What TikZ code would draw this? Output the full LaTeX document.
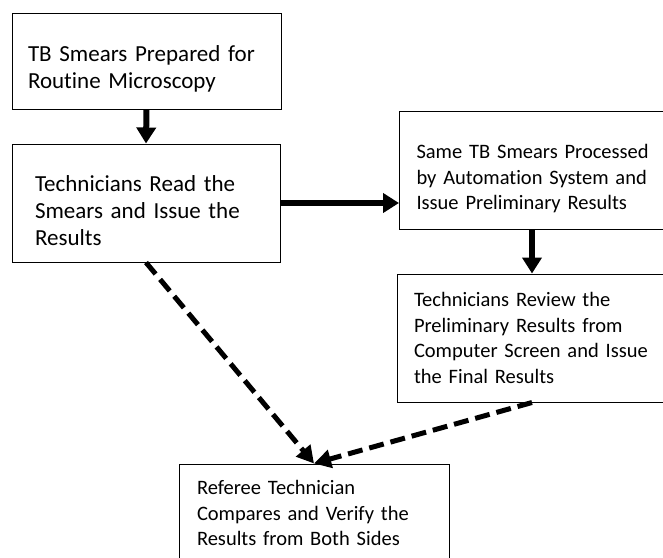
\documentclass[tikz,border=0pt]{standalone}
\usepackage{fontspec}
\setmainfont{Carlito}[Ligatures=NoCommon]
\usetikzlibrary{arrows.meta}

\begin{document}
\begin{tikzpicture}
		[x=1pt,y=-1pt,line join=miter]
		\tikzstyle{box}=[rectangle, draw, line width=1pt, align=left, font=\fontsize{23}{27}\selectfont]
		\tikzstyle{thin box}=[box, font=\fontsize{20.5}{25.5}\selectfont]
		\tikzstyle{low text}=[execute at begin node={\rule{0pt}{32pt}}]
		\tikzstyle{solid arrow}=[line width=6pt, -{Triangle[width=19pt,length=16pt]}]
		\tikzstyle{dash arrow}=[line width=5pt, dash pattern=on 15pt off 7pt, -{Triangle[width=18pt,length=17pt]}]
		\useasboundingbox (0,0) rectangle (663,557);
		\clip (0,0) rectangle (663,557);
		%-----boxes
		 \node[box, low text, minimum width=269pt, minimum height=96pt, text width=237pt, inner xsep=16pt]  (prep) at (146.5,61) {TB Smears Prepared for\\Routine Microscopy};
		 \node[box, low text, minimum width=268pt, minimum height=118pt, text width=222pt, inner xsep=23pt]  (read) at (146,203) {Technicians Read the\\Smears and Issue the\\Results};
		 \node[thin box, low text, anchor=west, minimum height=118pt, text width=250pt, inner xsep=17pt]  (auto) at (399,170) {Same TB Smears Processed\\by Automation System and\\Issue Preliminary Results};
		 \node[thin box, minimum width=270pt, minimum height=128pt, text width=236pt, inner xsep=17pt]  (review) at (532,338) {Technicians Review the\\Preliminary Results from\\Computer Screen and Issue\\the Final Results};
		 \node[thin box, minimum width=270pt, minimum height=98pt, text width=234pt, inner xsep=18pt]  (referee) at (314,513) {Referee Technician\\Compares and Verify the\\Results from Both Sides};

		  \draw[solid arrow] (read.east) -- (read.east -| auto.west);
		  \draw[solid arrow] (prep.south) -- (read.north);
		  \draw[solid arrow] (review.north |- auto.south) -- (review.north);

		 \foreach \from in {read, review}
		 \draw[dash arrow] (\from.south) -- (referee.north);
		\end{tikzpicture}
\end{document}
